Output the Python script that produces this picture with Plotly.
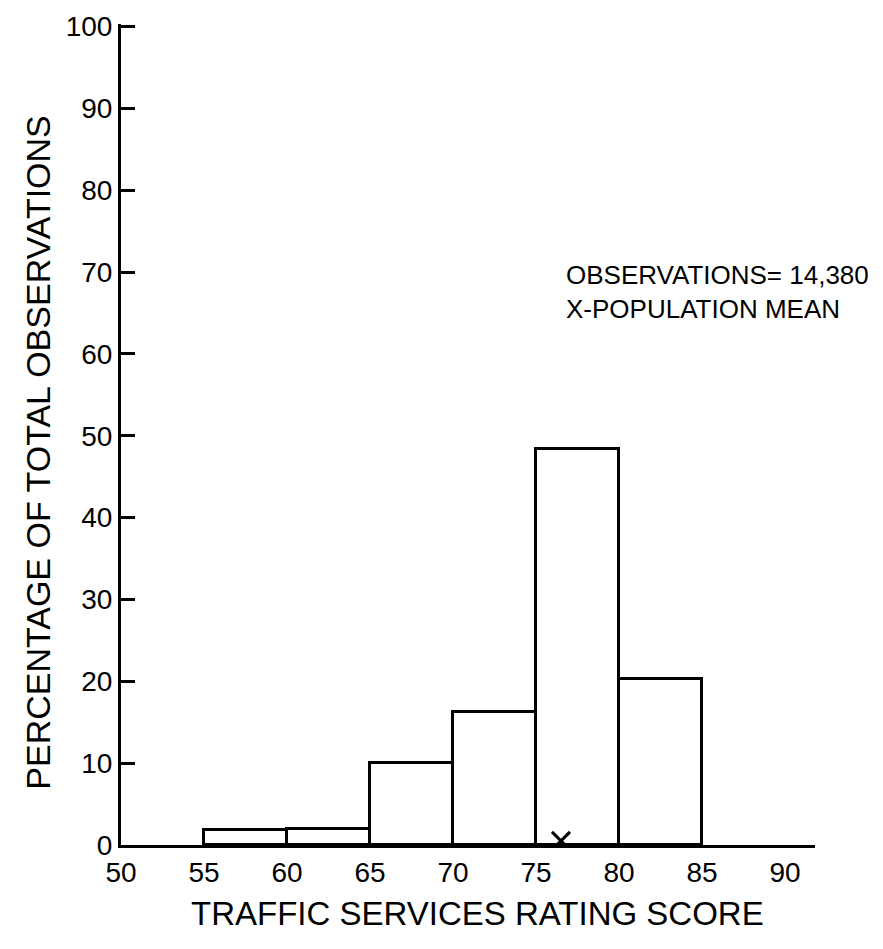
import plotly.graph_objects as go

bin_start = [55, 60, 65, 70, 75, 80]
percent = [1.8, 2.0, 10.0, 16.2, 48.4, 20.3]
mean_score = 76.5
x_ticks = [50, 55, 60, 65, 70, 75, 80, 85, 90]
y_ticks = [0, 10, 20, 30, 40, 50, 60, 70, 80, 90, 100]

font = "Liberation Sans"

fig = go.Figure()
fig.add_trace(go.Bar(x=bin_start, y=percent, width=5, offset=0,
                     marker=dict(color="white", line=dict(color="black", width=3)),
                     showlegend=False))
fig.add_trace(go.Scatter(x=[mean_score], y=[0.5], mode="markers",
                         marker=dict(symbol="x-thin", size=18, line=dict(color="black", width=3)),
                         showlegend=False))

# legend-like note
fig.add_annotation(x=1.08, y=0.673, xref="paper", yref="paper", xanchor="right",
                   yanchor="middle", text="OBSERVATIONS= 14,380<br>X-POPULATION MEAN",
                   showarrow=False, align="left",
                   font=dict(family=font, size=26, color="black"))

# axis titles
fig.add_annotation(x=-0.12, y=0.4775, xref="paper", yref="paper", textangle=-90,
                   xanchor="center", yanchor="middle",
                   text="PERCENTAGE OF TOTAL OBSERVATIONS", showarrow=False,
                   font=dict(family=font, size=34, color="black"))
fig.add_annotation(x=0.513, y=-0.084, xref="paper", yref="paper",
                   xanchor="center", yanchor="middle",
                   text="TRAFFIC SERVICES RATING SCORE", showarrow=False,
                   font=dict(family=font, size=33, color="black"))

fig.update_xaxes(range=[50, 91.8], tickvals=x_ticks, showline=True, linewidth=3,
                 linecolor="black", ticks="", showgrid=False, zeroline=False,
                 automargin=False, tickfont=dict(family=font, size=28, color="black"))
fig.update_yaxes(range=[0, 100.3], tickvals=y_ticks, showline=True, linewidth=3,
                 linecolor="black", ticks="inside", ticklen=14, tickwidth=3,
                 tickcolor="black", showgrid=False, zeroline=False, automargin=False,
                 ticklabeloverflow="allow",
                 tickfont=dict(family=font, size=28, color="black"))

fig.update_layout(width=875, height=941, plot_bgcolor="white", paper_bgcolor="white",
                  margin=dict(l=113, r=68, t=16, b=104), bargap=0)

fig.write_html("out.html")
